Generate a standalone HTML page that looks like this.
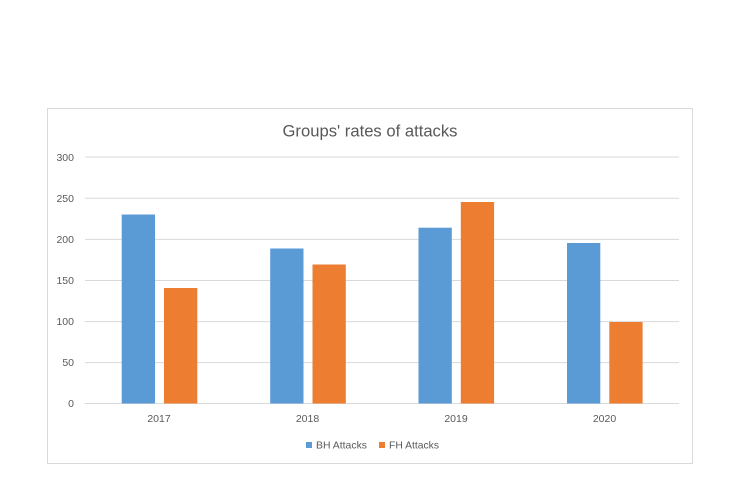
<!DOCTYPE html>
<html>
<head>
<meta charset="utf-8">
<style>
  html, body { margin: 0; padding: 0; background: #ffffff; }
  svg { display: block; }
  text { font-family: "Liberation Sans", sans-serif; fill: #595959; }
</style>
</head>
<body>
<svg width="741" height="486" viewBox="0 0 741 486" xmlns="http://www.w3.org/2000/svg">
  <rect x="0" y="0" width="741" height="486" fill="#ffffff"/>
  <!-- chart border -->
  <rect x="47.5" y="108.5" width="645" height="355" fill="#ffffff" stroke="#d9d9d9" stroke-width="1"/>

  <!-- title -->
  <text x="370" y="136.5" font-size="17" text-anchor="middle" textLength="175" lengthAdjust="spacingAndGlyphs">Groups' rates of attacks</text>

  <!-- gridlines -->
  <g stroke="#d9d9d9" stroke-width="1">
    <line x1="85" y1="157" x2="679" y2="157"/>
    <line x1="85" y1="198.2" x2="679" y2="198.2"/>
    <line x1="85" y1="239.4" x2="679" y2="239.4"/>
    <line x1="85" y1="280.5" x2="679" y2="280.5"/>
    <line x1="85" y1="321.6" x2="679" y2="321.6"/>
    <line x1="85" y1="362.6" x2="679" y2="362.6"/>
    <line x1="85" y1="403.5" x2="679" y2="403.5"/>
  </g>

  <!-- y-axis labels -->
  <g font-size="10.5" text-anchor="end">
    <text x="74" y="161">300</text>
    <text x="74" y="202">250</text>
    <text x="74" y="243">200</text>
    <text x="74" y="284">150</text>
    <text x="74" y="325">100</text>
    <text x="74" y="366">50</text>
    <text x="74" y="407">0</text>
  </g>

  <!-- bars -->
  <g fill="#5B9BD5">
    <rect x="121.7" y="214.5" width="33.3" height="189"/>
    <rect x="270.2" y="248.5" width="33.3" height="155"/>
    <rect x="418.5" y="227.7" width="33.3" height="175.8"/>
    <rect x="567" y="243" width="33.3" height="160.5"/>
  </g>
  <g fill="#ED7D31">
    <rect x="164" y="288" width="33.3" height="115.5"/>
    <rect x="312.5" y="264.5" width="33.3" height="139"/>
    <rect x="460.8" y="202" width="33.3" height="201.5"/>
    <rect x="609.3" y="322" width="33.3" height="81.5"/>
  </g>

  <!-- x labels -->
  <g font-size="10.5" text-anchor="middle">
    <text x="159" y="422">2017</text>
    <text x="307.5" y="422">2018</text>
    <text x="456" y="422">2019</text>
    <text x="604.5" y="422">2020</text>
  </g>

  <!-- legend -->
  <rect x="306" y="442" width="6" height="6" fill="#5B9BD5"/>
  <text x="316" y="448.5" font-size="10.5" textLength="51" lengthAdjust="spacingAndGlyphs">BH Attacks</text>
  <rect x="379" y="442" width="6" height="6" fill="#ED7D31"/>
  <text x="389" y="448.5" font-size="10.5" textLength="50" lengthAdjust="spacingAndGlyphs">FH Attacks</text>
</svg>
</body>
</html>
